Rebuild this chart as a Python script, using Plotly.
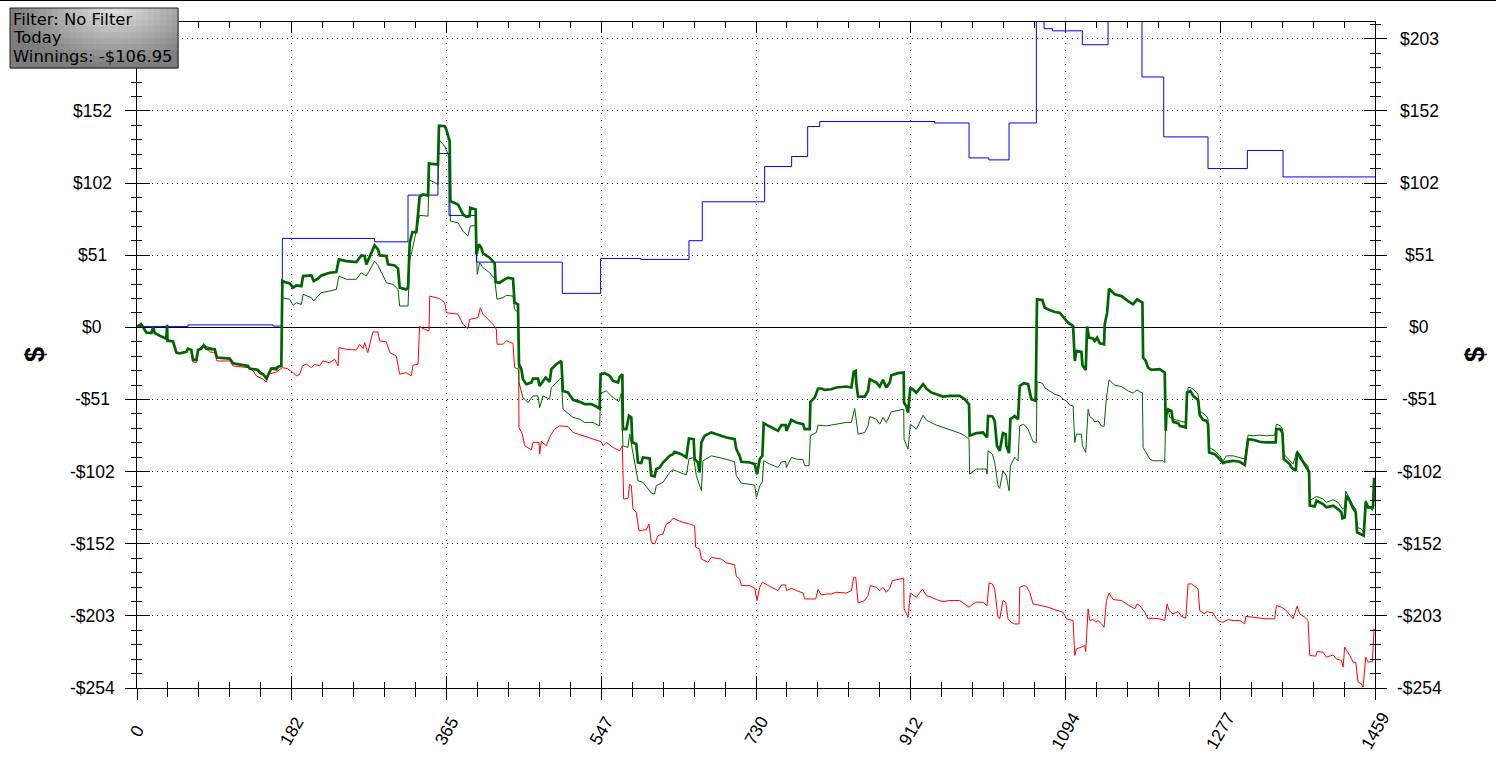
import plotly.graph_objects as go

# ---------------- data ----------------
X_TICKS = [0, 182.375, 364.75, 547.125, 729.5, 911.875, 1094.25, 1276.625, 1459]
X_LABELS = ["0", "182", "365", "547", "730", "912", "1094", "1277", "1459"]
Y_TICKS = [-254, -203.2, -152.4, -101.6, -50.8, 0, 50.8, 101.6, 152.4, 203.2]
Y_LABELS = ["-$254", "-$203", "-$152", "-$102", "-$51", "$0", "$51", "$102", "$152", "$203"]

blue_x = [0, 60, 160.3, 171.3, 280, 319.4, 354.7, 367.7, 400, 501.2, 546.4, 593.6, 650.5, 666.2,
          739.7, 771.5, 790.4, 804.6, 940, 980.6, 1004, 1027.7, 1059.9, 1069, 1078.8, 1114.1,
          1144.4, 1184.4, 1210, 1262.2, 1308.6, 1350.6, 1459]
blue_y = [0.5, 1.7, 0.9, 62.6, 60.2, 93.1, 122.4, 78.8, 45.9, 23.9, 48.5, 47.8, 61, 88.4,
          113.2, 120.3, 141.4, 144.9, 143.9, 119.3, 117.9, 143.9, 221, 210.3, 208.8, 199,
          232, 176.3, 134.1, 111.8, 124.5, 105.9, 105.9]

dg_x = [0, 5, 11, 17, 19, 21, 26.8, 34.6, 35.4, 36, 38.5, 42.5, 46.4, 50.3, 58.2, 60.1, 64, 66, 70, 72,
        75.9, 78.6, 81.7, 91.6, 94.3, 109.2, 113.2, 125, 130.9, 132.8, 142.6, 144.6, 148.5, 152.4,
        155.6, 158.3, 164.2, 166.2, 170.1, 171.3, 174.1, 180, 184, 187.8, 193.7, 195.7, 205.5, 208.2,
        213.3, 217.2, 221.2, 227, 234.9, 238, 246.7, 258.5, 264.4, 268.3, 270.3, 274.2, 280, 284,
        286, 293.9, 295.8, 303.7, 307.6, 309.6, 317.4, 319.4, 321.4, 324.5, 329.2, 333.1, 337.1,
        343, 344.1, 354.7, 355.9, 362.6, 364.6, 368.5, 369.3, 378.3, 382.2, 384.2, 388.1, 392,
        392.8, 399.1, 400, 403, 405.8, 407.8, 415.6, 421.5, 422.7, 427.4, 433.3, 437.2, 443.1,
        445, 449, 450.2, 453, 454.9, 458.8, 464.7, 466.7, 472.6, 474.5, 478.5, 481.6, 486.3,
        488.3, 494.2, 500.1, 502, 507.9, 513.8, 521.7, 527.6, 535.4, 541.3, 545.2, 546.4, 551.1,
        557, 561, 566.9, 568.8, 572, 572.7, 576.7, 579.8, 582.6, 583.7, 588.4, 590.4, 594.3,
        596.3, 604.2, 606.1, 610, 612, 616, 619.9, 627.7, 631.7, 633.6, 641.5, 647.4, 650.5,
        656, 657.2, 661.1, 663.1, 665.1, 669, 676.8, 686.6, 694.5, 704.3, 706.3, 710.2, 712.2,
        722, 728, 730.7, 733.9, 737, 738.6, 745.7, 755.5, 759.4, 764.5, 765.3, 771.2, 777.1,
        785, 786.9, 792.8, 793.6, 798.7, 802.6, 806.6, 810.5, 818.3, 824.2, 836, 841.9, 844.7,
        847, 847.8, 849.8, 857.6, 861.5, 863.5, 871.4, 875.3, 879.2, 883.1, 887.1, 889, 896.9,
        903.6, 904, 906.7, 908.7, 911.4, 918.5, 924.4, 926.4, 930.3, 936.2, 942, 949.9, 957.8,
        969.6, 975.5, 980.6, 981.3, 989.2, 997.1, 1001.8, 1003, 1008.1, 1010.8, 1013.5, 1016.7,
        1020.6, 1023.8, 1024.5, 1027.7, 1029.3, 1034.4, 1038.3, 1040.3, 1045, 1050.1, 1054,
        1059.1, 1060.7, 1067, 1069.7, 1075.6, 1081.5, 1087.4, 1091.4, 1097.3, 1103.2, 1105.2,
        1107.1, 1113, 1114.2, 1118.1, 1119.7, 1122.1, 1126.8, 1128.7, 1131.5, 1134.6, 1139.7,
        1140.5, 1143.3, 1145.6, 1152.3, 1160.2, 1168, 1173.9, 1178.6, 1181.8, 1184.9, 1185.7,
        1188.8, 1191.6, 1195.5, 1205.3, 1211.2, 1212.4, 1213.2, 1215.2, 1219.1, 1221.1, 1227,
        1228.9, 1236, 1237.5, 1241.5, 1244.6, 1250.5, 1252.5, 1256.4, 1260.3, 1262.3, 1263.5,
        1270.2, 1276, 1280, 1283.9, 1291.8, 1299.6, 1305.5, 1309.4, 1315.3, 1323.2, 1331, 1342,
        1342.8, 1347.5, 1349.9, 1351.5, 1358.5, 1360.5, 1365.6, 1367.2, 1370.3, 1373.5, 1378.2,
        1381.3, 1382.1, 1388, 1390, 1397.8, 1401.7, 1409.6, 1415.5, 1419.4, 1420.6, 1423.3,
        1425.3, 1429.2, 1433.2, 1436.3, 1437.9, 1443, 1445.7, 1448.1, 1450.8, 1456.7, 1457.9, 1459]
dg_y = [0.5, 2.2, -3.7, -4, 0, -4, -6, -8, 1.7, -9.6, -9.6, -10, -17.8, -18.3, -17.3, -15, -15.9, -23, -23, -16,
        -15, -12.7, -15, -15.5, -21.3, -22, -25.3, -26.7, -27.2, -29, -30, -31.9, -33, -36,
        -31.9, -29, -29.5, -27.7, -27.2, 32.6, 31.9, 30.9, 27.9, 29.5, 29, 36.1, 36.6, 32.6,
        34.2, 36.6, 37.3, 38.4, 38.9, 47.8, 46.6, 46, 50.6, 50.2, 44.3, 50.2, 57.7, 54.9,
        50.6, 50.2, 44.3, 43.6, 41.3, 27.9, 26.7, 27.9, 59.5, 67, 67, 91.9, 93.5,
        92.8, 115.3, 114.6, 142, 141.6, 139.2, 131, 88.8, 86.5, 82.5, 79.5, 77.8, 78.3,
        84.2, 83, 51.3, 58.4, 56, 52, 49, 45, 31.9, 31.4, 33.8, 34.9, 34.2,
        17.3, 16.1, -26, -29.5, -36.6, -40.1, -38.9, -36.1, -36.1, -41.3, -37.7, -35.4, -38.4,
        -29.5, -26, -23.7, -44.8, -45.9, -51.1, -52.5, -54.1, -54.1, -55.8, -57.2, -33, -32.3,
        -34.2, -37.7, -38.9, -34.9, -33, -71.7, -71.7, -62.3, -63.5, -81, -82.2, -95.2, -95.6,
        -91.6, -92.3, -104.5, -105, -99.8, -98.7, -95.2, -90.5, -89.3, -87.7, -89.3, -91.6, -78.3,
        -78.8, -92.8, -95.2, -102.2, -81, -76.4, -74, -75.9, -77.6, -78.8, -85.8, -90.5, -94.7,
        -95.2, -96.3, -103.4, -92.8, -90.5, -67.5, -69.9, -72.9, -68.9, -68.9, -72.9, -65.2, -67,
        -68.2, -71.7, -71.7, -52.5, -49.5, -43.1, -43.1, -44.1, -43.6, -42.4, -41.7, -42.4, -31.4,
        -30.7, -40.1, -48.8, -48.8, -44.8, -36.6, -38.9, -41.7, -37, -42.4, -38.9, -33.8, -32.3,
        -31.9, -53, -55.8, -60, -42.4, -46, -41.3, -40.1, -43.1, -45.9, -47.1, -48.8, -48.3,
        -48.3, -50.6, -54.2, -76.4, -74.5, -74.1, -77.6, -62.4, -62.8, -65.9, -83.4, -87,
        -74.5, -75.2, -83.4, -88.6, -64.7, -62.4, -64.7, -41.3, -39.4, -40.1, -50.6,
        -51.8, 19.7, 19.2, 13.8, 12.2, 10.8, 10.3, 7.5, 3.3, 0.9, -23.7,
        -16.6, -17.3, -26.7, -30, 0.5, -7.3, -8, -9.6, -7.3, -11.2, -11.9,
        2.1, 10.3, 27.2, 23.2, 22, 18.5, 16.2, 19.7, 18.5, 17.4, -21.3,
        -23.7, -28.4, -30, -29.5, -31.9, -72.9, -61.2, -57.7, -58.8, -66.6, -67.5,
        -69.4, -70.5, -45.9, -44.8, -48.3, -51.1, -61.9, -65.2, -65.9, -68.2, -88.1,
        -89.3, -92.8, -95.6, -94.7, -94, -94.7, -97, -78.8, -79.2, -80.6, -81.1, -81.1,
        -71.7, -71.7, -74.5, -92.8, -96.3, -98.7, -101, -88.1, -90.5, -94, -98.7,
        -101.7, -125.6, -126.1, -122.1, -124.5, -126.8, -125.6, -128, -130.3, -134.5, -133.8,
        -118.6, -122.1, -127.5, -130.3, -144.4, -146.3, -146.7, -122.8, -126.8, -126.8, -106.9, -106.95]

lg_x = [0, 5, 11, 17, 19, 21, 26.8, 34.6, 36, 42.5, 46.4, 50.3, 58.2, 60.1, 64, 66, 70, 72, 78.6, 91.6,
        94.3, 109.2, 113.2, 125, 132.8, 142.6, 148.5, 152.4, 158.3, 166.2, 170.1,
        171.3, 180, 184, 187.8, 193.7, 195.7, 205.5, 208.2, 213.3, 217.2, 227, 234.9, 238, 246.7,
        258.5, 264.4, 270.3, 274.2, 280, 284, 294, 301.7, 307.6, 309.6, 319.4, 321.4, 324.5, 333,
        343, 344, 354.7, 356, 362.6, 367.7, 369.3, 378.3, 384.2, 390, 392.8, 399.1, 401, 403.8,
        407.8, 415.6, 421.5, 424.3, 431.4, 435.3, 443.1, 445, 449, 450.2, 454.9, 460.8, 466.7,
        472.6, 474.5, 478.5, 486.3, 488.3, 494.2, 500.1, 502, 513.8, 521.7, 527.6, 537.4, 545.2,
        546.4, 553.1, 561, 568, 570.8, 572.7, 578.6, 580.6, 583.7, 590.4, 596.3, 606.1, 610, 612,
        619.9, 627.7, 631.7, 647.4, 650.5, 656, 659.2, 665.1, 667, 676.8, 690.6, 704.3, 706.3,
        712.2, 728, 730, 734, 737, 738.6, 745.7, 755.5, 759.4, 764.5, 765.3, 771.2, 777.1, 785,
        786.9, 792, 793.6, 800.7, 802.6, 812.4, 824.2, 836, 841.9, 845.8, 847.8, 849.8, 857.6,
        861.5, 863.5, 871.4, 875.3, 879.2, 883.1, 889, 903.6, 904, 908.7, 911.4, 918.5, 926.4,
        930.3, 942, 949.9, 969.6, 975.5, 980.6, 981.3, 989.2, 1001, 1001.8, 1003, 1008.1, 1010.8,
        1014.7, 1016.7, 1020.6, 1024.5, 1027.7, 1029.3, 1034.4, 1038.3, 1040.3, 1045, 1050.1,
        1054, 1056, 1059.9, 1060.7, 1067, 1069.7, 1075.6, 1081.5, 1087.4, 1091.4, 1095.4, 1099.3,
        1103.2, 1105.2, 1107.1, 1113, 1114.2, 1118.1, 1120.9, 1122.9, 1126.8, 1128.7, 1132.7,
        1136.6, 1139.7, 1142.5, 1145.6, 1152.3, 1160.2, 1168, 1173.9, 1178.6, 1181.8, 1184.9,
        1185.7, 1188.8, 1193.6, 1197.5, 1209.3, 1211.2, 1212.4, 1215.2, 1217.1, 1221.1, 1228.9,
        1236, 1238.7, 1241.5, 1244.6, 1248.5, 1250.5, 1252.5, 1260.3, 1262.3, 1263.5, 1270.2,
        1276, 1280, 1283.9, 1291.8, 1299.6, 1305.5, 1309.4, 1315.3, 1323.2, 1331, 1340.8,
        1342.8, 1347.5, 1349.9, 1351.5, 1358.5, 1362.5, 1367.2, 1370.3, 1376.2, 1380.1, 1382.1,
        1390, 1397.8, 1401.7, 1409.6, 1415.5, 1420.6, 1423.3, 1424.5, 1429.2, 1433.2, 1436.3,
        1437.9, 1443, 1445.7, 1448.1, 1450.8, 1456, 1457.9, 1459]
lg_y = [0.5, 2.2, -3.7, -4, 0, -4, -6, -8, -9.6, -10, -17.8, -18.3, -17.3, -15, -15.9, -23, -23, -16, -12.7, -15.5,
        -21.3, -22, -25.3, -26.7, -29, -30, -33, -36, -29, -27.7, -27.2,
        20.9, 19.7, 15.5, 17.3, 16.1, 23.2, 20.9, 18.5, 22, 24.4, 25.5, 26.7, 36.1, 33.8,
        33.8, 38.4, 36.1, 40.3, 46.6, 43.6, 31.4, 30.2, 26.7, 15, 15, 47.8, 54.9, 78.8,
        78.3, 104, 100.6, 132.2, 127.5, 120.5, 74.8, 73.6, 67.7, 64.2, 71.3, 71.7, 37.3, 45.5,
        42, 38.4, 34.2, 19.7, 20.9, 22.5, 22, 12.6, 10.8, -38.9, -49.5, -53, -48.3,
        -48.3, -56.5, -48.3, -50.6, -42.4, -38.9, -35.4, -57.6, -63.5, -64.7, -67, -67, -69.4,
        -46.4, -44.8, -49.5, -52.3, -46.4, -83.4, -84.6, -75.2, -85.8, -108, -109.2, -116.7, -117.4, -111.5,
        -109.2, -102.2, -100.3, -104, -92.8, -91.6, -104.5, -115, -94, -90.5, -92.3, -94.7, -104.5,
        -109.7, -111.1, -119.8, -111.6, -108.8, -94, -96.3, -98.7, -94.9, -94.4, -98.7, -91.6, -92.8, -93.3,
        -97.5, -97.5, -76.4, -74, -68.9, -69.4, -68.2, -67, -67, -57.2, -65.9, -75.2, -74.1,
        -69.4, -62.8, -64.7, -68.2, -63.5, -67, -59.5, -57.7, -78.8, -85.8, -68.2, -71.7, -61.9,
        -65.4, -68.9, -70.5, -74.5, -76.4, -78.8, -103.4, -99.8, -99.8, -103.4, -87, -89.3, -95.2,
        -111.6, -113.4, -101, -104.5, -115.1, -97.5, -91.6, -94, -69.4, -68.2, -71.7,
        -77.6, -80.6, -81.1, -38.4, -39.4, -42.4, -44.8, -47.1, -48.3, -50.6, -51.8, -54.8,
        -55.3, -81.1, -75.2, -75.2, -83.4, -88.1, -57.7, -62.8, -64.7, -66.6, -65.9,
        -69.4, -69.8, -49.5, -37, -40.8, -41.7, -44.8, -46.4, -44.1, -45.5, -46,
        -84.6, -88.1, -92.8, -94, -94, -95.2, -60, -57.7, -63.5, -64.7, -65.9,
        -67, -42.4, -42.4, -43.6, -45.9, -47.1, -58.8, -62.4, -64.7, -84.6, -86.9,
        -90.5, -94, -90.5, -90.5, -91.6, -92.8, -75.9, -76.4, -75.9, -76.4, -75.9,
        -68.2, -69.4, -71.7, -89.3, -94, -96.3, -86.9, -92.8, -95.2, -97.5, -122.1,
        -119.1, -120.9, -123.3, -121.4, -123.3, -128, -126.8, -115.3, -120.9, -125.6, -128,
        -140.9, -142, -144.4, -122.1, -125.6, -129.1, -120.9, -116.3]

red_x = [0, 5, 11, 17, 19, 21, 26.8, 34.6, 36, 42.5, 46.4, 50.3, 58.2, 60.1, 64, 66, 70, 72, 78.6, 85.7,
         91.6, 94.3, 109.2, 113.2, 130.9, 136.8, 140.7, 148.5, 152.4, 155.6, 164.2, 171.3, 177.2,
         184, 187.8, 191.8, 195, 199.6, 205.5, 209.4, 215.3, 219, 227, 233, 237, 238, 246.7, 258.5,
         262.4, 266.4, 268.3, 272, 278, 284, 286, 293.9, 298, 305.6, 309.6, 317.4, 323.3, 325.3,
         331.2, 333, 339, 344.1, 345, 351, 356.8, 362.6, 364.6, 378.3, 384.2, 390, 392, 401.9,
         404.6, 407.8, 411.7, 419.5, 423.5, 424.3, 431.4, 435.3, 443.1, 445, 449.8, 450.2, 454.1,
         456.9, 464.7, 466.7, 473.8, 474.5, 476.5, 482.4, 487.1, 492.2, 498.1, 507.9, 513.8, 525.6,
         537.4, 547.2, 549.2, 553.1, 561, 568.8, 572, 573.5, 578.6, 580.6, 582.6, 584.5, 588.4,
         591.6, 600.2, 603.4, 606.1, 610, 614, 619.9, 623.8, 627.7, 631.7, 643.5, 651.3, 657.2,
         658.4, 663.1, 665.1, 672.9, 676.8, 688.6, 694.5, 704.3, 706.3, 710.2, 712.2, 722.1, 728,
         730.7, 733.9, 737, 745.7, 755.5, 759.4, 764.5, 765.3, 771.2, 777.1, 785, 786.9, 792.8,
         796.7, 799.9, 802.6, 806.6, 812.4, 818.3, 824.2, 836, 841.9, 844.7, 847, 848.6, 849.8,
         857.6, 861.5, 864.3, 871.4, 875.3, 879.2, 883.1, 887.1, 890.2, 903.6, 904, 908.7, 911.4,
         918.5, 925.6, 930.3, 936.2, 942, 949.9, 957.8, 969.6, 975.5, 980.6, 985.3, 989.2, 997.1,
         1001.8, 1004.1, 1008.1, 1010.8, 1014.7, 1016.7, 1020.6, 1023.8, 1026.5, 1030.4, 1034.4,
         1039.5, 1040.3, 1045, 1048.1, 1052.1, 1056, 1065.8, 1073.7, 1081.5, 1089.4, 1091.4,
         1095.4, 1103.2, 1105.2, 1107.1, 1113, 1117, 1118.1, 1120.9, 1122.9, 1126.8, 1129.9,
         1132.7, 1136.6, 1139.7, 1142.5, 1145.6, 1150.4, 1160.2, 1168, 1175.9, 1178.6, 1181.8,
         1187.7, 1191.6, 1197.5, 1205.3, 1211.2, 1214, 1216.3, 1221.1, 1227, 1230.9, 1236, 1238.7,
         1242.7, 1250.5, 1252.5, 1258.4, 1260.3, 1268.2, 1272.1, 1276, 1280, 1285.9, 1291.8,
         1299.6, 1305.5, 1306.7, 1315.3, 1323.2, 1331, 1340.8, 1342.8, 1348.7, 1354.6, 1358.5,
         1362.5, 1367.2, 1370.3, 1376.2, 1380.1, 1382.1, 1389.2, 1390.8, 1397.8, 1401.7, 1409.6,
         1413.5, 1419.4, 1421.4, 1423.3, 1429.2, 1433.2, 1436.3, 1439.1, 1443, 1444.9, 1448.1,
         1450.8, 1456, 1457.9, 1459]
red_y = [0.5, 2.2, -3.7, -4, 0, -4, -6, -8, -9.6, -10, -17.8, -18.3, -17.3, -15, -16.5, -24.4, -24.8, -17.2, -13.6, -17.3,
         -17.8, -23.7, -23.7, -27.2, -28.4, -30.7, -34.2, -36.6, -38.4, -33, -31.4, -28.4, -29.1,
         -31.9, -34.2, -33, -27.2, -26, -28.4, -26, -27.2, -23.7, -24.9, -22.5, -27.2, -14.3, -15.5, -16,
         -12, -15, -10.8, -17.8, -3.3, -3.3, -9.6, -10.3, -17.8, -20.2, -33, -31.9, -34.2, -26.7,
         -26, 0.5, -1.4, -2.6, 22, 20.9, 20.2, 17.3, 10.3, 9.2, 2.1, -0.9, 5.6, 6.8,
         13.8, 9.2, 6.8, 2.1, -1.4, -11.9, -11.9, -9.6, -11.2, -28.4, -29.5, -70.5, -75.2,
         -83.4, -86.2, -81, -81, -89.3, -80.4, -83.4, -76.4, -71.7, -69.4, -69.9, -74, -76.4,
         -78.3, -80.6, -83.4, -81, -84.6, -87, -83.4, -120.9, -120.5, -110.4, -111.6, -128, -130.3,
         -143.2, -142.5, -138.5, -151.4, -152.6, -146.7, -145.5, -138.5, -137.4, -134.5, -137.4, -138.5, -139.7,
         -154.9, -156.1, -163.2, -165.5, -162, -163.2, -165.9, -167.3, -175.3, -177.2, -181.9, -181.9, -183.8,
         -192.4, -183.1, -179.5, -182.4, -185.4, -181.4, -181.4, -185.4, -183.8, -185.4, -187.1, -191.3, -191.3,
         -190.8, -191.3, -184.7, -188.5, -187.8, -187.8, -186.6, -187.1, -185.4, -176, -176, -184.2, -194.1,
         -192.4, -188.9, -181.9, -183.1, -185.4, -183.1, -186.6, -183.8, -178.4, -176.7, -198.3, -204.2, -187.1,
         -190.1, -184.3, -188.9, -190.1, -191.7, -193.2, -192.4, -192.4, -194.8, -197.1, -194.8, -193.6, -193.6,
         -196, -180, -180.7, -184.3, -204.2, -205.3, -192.4, -193.6, -205.3, -207.7, -208.9,
         -208.9, -183.1, -181.9, -182.4, -186.6, -194.8, -196, -197.1, -198.8, -200.2, -200.7,
         -205.3, -206.5, -231.1, -226.4, -225.2, -224.1, -228.3, -198.3, -206.5, -205.8, -207.7,
         -206.5, -208.8, -211.2, -192.4, -187.1, -191.7, -192.4, -195.5, -198.3, -194.8, -196,
         -200.7, -205.3, -204.9, -205.3, -206.5, -194.8, -199.5, -201.8, -200.2, -203.5, -204.9, -180.7,
         -180.7, -184.2, -199.5, -201.8, -200.2, -201.1, -205.3, -207.2, -207.7, -205.8, -206.5,
         -206.5, -208.8, -203.5, -204.2, -204.9, -205.3, -205.3, -196, -197.1, -199.5, -202.5,
         -205.3, -196.4, -201.8, -204.2, -206.5, -231.1, -231.6, -228.3, -228.8, -232.3, -230.7,
         -233.5, -234.6, -239.3, -225.2, -231.1, -235.8, -235.8, -249.9, -251, -253.4, -232.3,
         -235.8, -235.3, -212.4, -214]

INFO_LINES = ["Filter: No Filter", "Today", "Winnings: -$106.95"]
AXIS_TITLE = "$"

# ---------------- geometry / style ----------------
W, H = 1496, 770
ML, MR, MT, MB = 137, 121, 22, 82
PW, PH = W - ML - MR, H - MT - MB


def px_x(p):   # pixel x -> paper x
    return (p - ML) / PW


def px_y(p):   # pixel y (from top) -> paper y
    return 1 - (p - MT) / PH


AXFONT = dict(family="Liberation Sans, Arial, sans-serif", size=17.5, color="black")
DARKG = "#006400"

fig = go.Figure()
fig.add_trace(go.Scatter(x=red_x, y=red_y, mode="lines", line=dict(color="#FF0000", width=1),
                         hoverinfo="skip", showlegend=False))
fig.add_trace(go.Scatter(x=lg_x, y=lg_y, mode="lines", line=dict(color=DARKG, width=1),
                         hoverinfo="skip", showlegend=False))
fig.add_trace(go.Scatter(x=blue_x, y=blue_y, mode="lines", line=dict(color="#0000FF", width=1, shape="hv"),
                         hoverinfo="skip", showlegend=False))
fig.add_trace(go.Scatter(x=dg_x, y=dg_y, mode="lines", line=dict(color=DARKG, width=2.7),
                         hoverinfo="skip", showlegend=False))
# empty traces so that the extra tick axes get drawn
for xa, ya in [("x2", "y2"), ("x3", "y3"), ("x2", "y4")]:
    fig.add_trace(go.Scatter(x=[], y=[], xaxis=xa, yaxis=ya, showlegend=False, hoverinfo="skip"))

XR = [0, 1459]
YR = [-254, 215]

common_x = dict(range=XR, tickmode="array", tickvals=X_TICKS, showticklabels=False,
                tickcolor="black", tickwidth=1, zeroline=False, fixedrange=True)
common_y = dict(range=YR, tickmode="array", tickvals=Y_TICKS, showticklabels=False,
                tickcolor="black", tickwidth=1, fixedrange=True)

fig.update_layout(
    width=W, height=H,
    margin=dict(l=ML, r=MR, t=MT, b=MB, pad=0),
    paper_bgcolor="white", plot_bgcolor="white",
    showlegend=False, hovermode=False,
    xaxis=dict(**common_x, ticks="outside", ticklen=11, showline=True, linecolor="black", linewidth=1,
               showgrid=True, gridcolor="black", gridwidth=1, griddash="1px,6px",
               minor=dict(tick0=0, dtick=36.475, ticks="outside", ticklen=8, tickcolor="black",
                          tickwidth=1, showgrid=False)),
    xaxis2=dict(**common_x, overlaying="x", side="bottom", anchor="y", ticks="inside", ticklen=12,
                showline=False, showgrid=False,
                minor=dict(tick0=0, dtick=36.475, ticks="inside", ticklen=6, tickcolor="black",
                           tickwidth=1, showgrid=False)),
    xaxis3=dict(**common_x, overlaying="x", side="top", anchor="y", ticks="inside", ticklen=11,
                showline=True, linecolor="black", linewidth=1, showgrid=False,
                minor=dict(tick0=0, dtick=36.475, ticks="inside", ticklen=6, tickcolor="black",
                           tickwidth=1, showgrid=False)),
    yaxis=dict(**common_y, ticks="outside", ticklen=11, showline=True, linecolor="black", linewidth=1,
               showgrid=True, gridcolor="black", gridwidth=1, griddash="1px,4px",
               zeroline=True, zerolinecolor="black", zerolinewidth=1,
               minor=dict(tick0=0, dtick=10.16, ticks="outside", ticklen=5, tickcolor="black",
                          tickwidth=1, showgrid=False)),
    yaxis2=dict(**common_y, overlaying="y", side="left", anchor="x", ticks="inside", ticklen=13,
                showline=False, showgrid=False, zeroline=False,
                minor=dict(tick0=0, dtick=10.16, ticks="inside", ticklen=5, tickcolor="black",
                           tickwidth=1, showgrid=False)),
    yaxis3=dict(**common_y, overlaying="y", side="right", anchor="x", ticks="outside", ticklen=11,
                showline=True, linecolor="black", linewidth=1, showgrid=False, zeroline=False,
                minor=dict(tick0=0, dtick=10.16, ticks="outside", ticklen=5, tickcolor="black",
                           tickwidth=1, showgrid=False)),
    yaxis4=dict(**common_y, overlaying="y", side="right", anchor="x", ticks="inside", ticklen=11,
                showline=False, showgrid=False, zeroline=False,
                minor=dict(tick0=0, dtick=10.16, ticks="inside", ticklen=5, tickcolor="black",
                           tickwidth=1, showgrid=False)),
)

# info box extent in pixels
bx0, bx1, by0, by1 = 10, 178, 8, 68

ann = []
# y tick labels (centred, both sides); the left one under the info box is hidden by it
for v, t in zip(Y_TICKS, Y_LABELS):
    for xp in (px_x(92), px_x(1419)):
        ypix = MT + (YR[1] - v) / (YR[1] - YR[0]) * PH
        if xp < 0 and by0 - 8 < ypix < by1 + 8:
            continue
        ann.append(dict(x=xp, xref="paper", y=v, yref="y", text=t, showarrow=False,
                        xanchor="center", yanchor="middle", font=AXFONT))
# x tick labels (rotated)
for v, t in zip(X_TICKS, X_LABELS):
    ann.append(dict(x=v, xref="x", y=px_y(731), yref="paper", text=t, showarrow=False,
                    textangle=-60, xanchor="center", yanchor="middle", font=AXFONT))
# axis titles
for xp in (px_x(35), px_x(1475)):
    ann.append(dict(x=xp, xref="paper", y=0.5, yref="paper", text="<b>" + AXIS_TITLE + "</b>",
                    showarrow=False, textangle=-90, xanchor="center", yanchor="middle",
                    font=dict(family="Liberation Sans, Arial, sans-serif", size=27, color="black")))
# info box text
for i, line in enumerate(INFO_LINES):
    ann.append(dict(x=px_x(11), xref="paper", y=px_y(19.5 + 18.3 * i), yref="paper", text=line,
                    showarrow=False, xanchor="left", yanchor="middle", align="left",
                    font=dict(family="DejaVu Sans, Verdana, sans-serif", size=16.4, color="black")))
fig.update_layout(annotations=ann)

shapes = []
# window top line
shapes.append(dict(type="line", xref="paper", yref="paper", x0=px_x(0), x1=px_x(W), y0=px_y(0.5), y1=px_y(0.5),
                   line=dict(color="black", width=1), layer="above"))
# info box gradient
NC, NR = 28, 10
for i in range(NC):
    for j in range(NR):
        cx = (i + 0.5) / NC
        cy = (j + 0.5) / NR
        d = ((cx - 0.62) ** 2 / 0.5 + (cy - 0.0) ** 2 / 1.3) ** 0.5
        g = int(max(125, min(228, 228 - 120 * d)))
        col = "rgb(%d,%d,%d)" % (g, g, g)
        x0 = bx0 + (bx1 - bx0) * i / NC
        x1 = bx0 + (bx1 - bx0) * (i + 1) / NC
        y0 = by0 + (by1 - by0) * j / NR
        y1 = by0 + (by1 - by0) * (j + 1) / NR
        shapes.append(dict(type="rect", xref="paper", yref="paper", x0=px_x(x0), x1=px_x(x1) + 0.0005,
                           y0=px_y(y1) - 0.0008, y1=px_y(y0), fillcolor=col, line=dict(width=0), layer="above"))
shapes.append(dict(type="rect", xref="paper", yref="paper", x0=px_x(bx0), x1=px_x(bx1),
                   y0=px_y(by1), y1=px_y(by0), line=dict(color="#202020", width=1), layer="above"))
fig.update_layout(shapes=shapes)

fig.write_html("out.html", include_plotlyjs=True, full_html=True,
               config={"displayModeBar": False, "staticPlot": True},
               post_script="document.body.style.margin='0';document.body.style.overflow='hidden';")
